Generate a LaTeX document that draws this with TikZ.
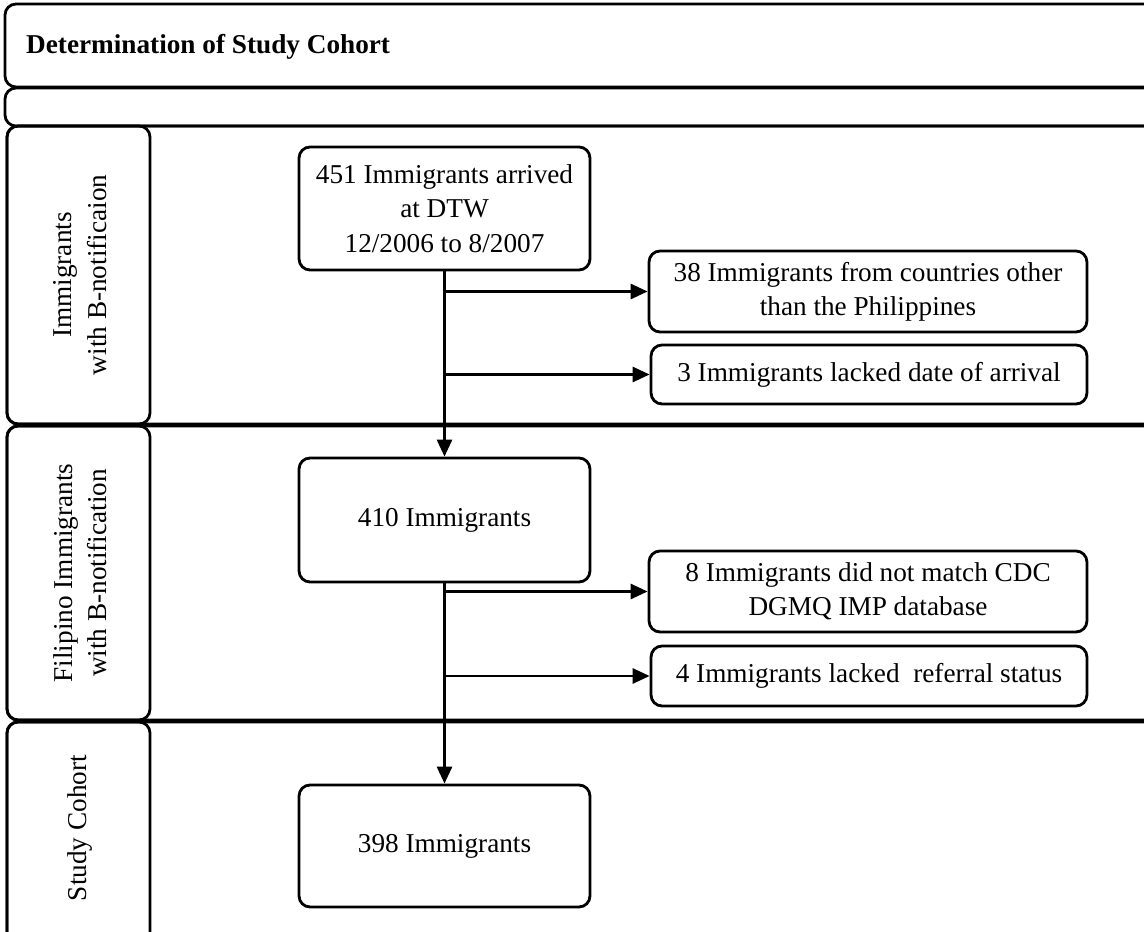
\documentclass[tikz,border=0pt]{standalone}
\usepackage{fontspec}
\setmainfont{Liberation Serif}
\usetikzlibrary{arrows.meta}

\begin{document}
\begin{tikzpicture}[x=0.02cm, y=-0.02cm,
    frame/.style={draw, line width=1.6pt, rounded corners=0.22cm},
    stage/.style={draw, line width=1.6pt, rounded corners=0.22cm, align=center,
        inner sep=0pt, font=\fontsize{15.5pt}{19.5pt}\selectfont},
    lanetxt/.style={rotate=90, align=center, font=\fontsize{15.5pt}{19.5pt}\selectfont},
    flow/.style={line width=1.6pt, -{Triangle[length=0.34cm, width=0.3cm]}}]

    \useasboundingbox (0,0) rectangle (1144,932);
    \clip (0,0) rectangle (1144,932);

    % === Intestazione ===
    \draw[frame] (5,4) rectangle (1170,87);
    \node[anchor=west, font=\fontsize{15.5pt}{19.5pt}\selectfont\bfseries] (title) at (20,47) {Determination of Study Cohort};
    \draw[frame] (5,88) rectangle (1170,126);

    % === Corsie ===
    \draw[frame] (7,126) rectangle (1170,424);
    \draw[frame] (7,126) rectangle (150,424);
    \draw[frame] (7,426) rectangle (1170,720);
    \draw[frame] (7,426) rectangle (150,720);
    \draw[frame] (7,722) rectangle (1170,960);
    \draw[frame] (7,722) rectangle (150,960);

    \node[lanetxt] (lane1) at (80,275) {Immigrants\\with B-notificaion};
    \node[lanetxt] (lane2) at (80,573) {Filipino Immigrants\\with B-notification};
    \node[lanetxt] (lane3) at (80,828) {Study Cohort};

    % === Riquadri ===
    \node[stage, minimum width=5.82cm, minimum height=2.46cm] (arr) at (444.5,208.5) {451 Immigrants arrived\\at DTW\\12/2006 to 8/2007};
    \node[stage, minimum width=8.76cm, minimum height=1.62cm] (ctry) at (868,291.5) {38 Immigrants from countries other\\than the Philippines};
    \node[stage, minimum width=8.72cm, minimum height=1.18cm] (date) at (869,374.5) {3 Immigrants lacked date of arrival};

    \node[stage, minimum width=5.82cm, minimum height=2.48cm] (fil) at (444.5,520) {410 Immigrants};
    \node[stage, minimum width=8.76cm, minimum height=1.62cm] (cdc) at (868,591.5) {8 Immigrants did not match CDC\\DGMQ IMP database};
    \node[stage, minimum width=8.72cm, minimum height=1.2cm] (ref) at (869,676) {4 Immigrants lacked~ referral status};

    \node[stage, minimum width=5.82cm, minimum height=2.44cm] (coh) at (444.5,846) {398 Immigrants};

    % Frecce
    \draw[flow] (arr.south) -- (fil.north);
    \draw[flow] (arr.south |- ctry.west) -- (ctry.west);
    \draw[flow] (arr.south |- date.west) -- (date.west);

    \draw[flow] (fil.south) -- (coh.north);
    \draw[flow] (fil.south |- cdc.west) -- (cdc.west);
    \draw[flow] (fil.south |- ref.west) -- (ref.west);

\end{tikzpicture}
\end{document}
